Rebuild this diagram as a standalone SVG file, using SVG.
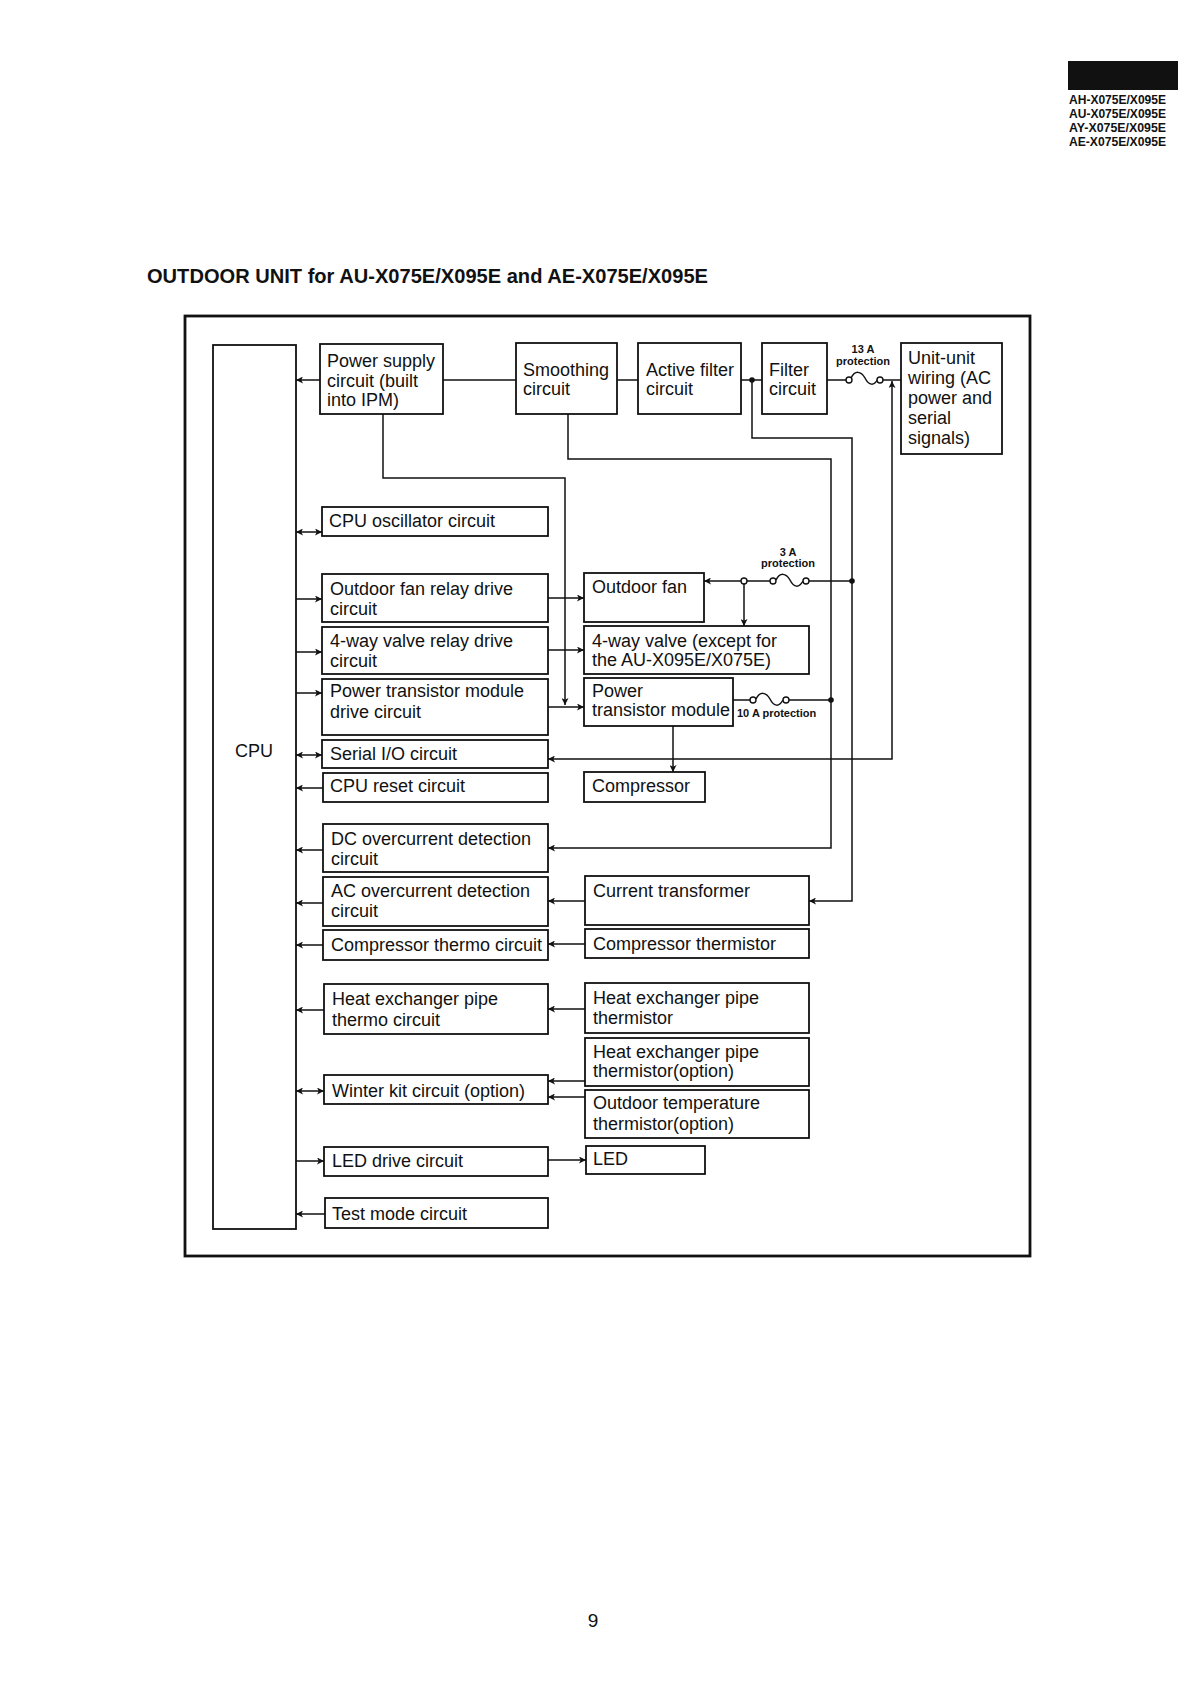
<svg xmlns="http://www.w3.org/2000/svg" width="1191" height="1684" viewBox="0 0 1191 1684">
<defs>
<marker id="ar" viewBox="0 0 10 10" refX="10" refY="5" markerWidth="10" markerHeight="7" markerUnits="userSpaceOnUse" orient="auto-start-reverse"><path d="M0,0 L10,5 L0,10 L2.5,5 z" fill="#111"/></marker>
<style>
.bx{fill:#fff;stroke:#111;stroke-width:1.8}
.t{font-family:"Liberation Sans",Arial,sans-serif;font-size:18px;fill:#111}
.s{font-family:"Liberation Sans",Arial,sans-serif;font-size:11px;font-weight:bold;fill:#111}
.h{font-family:"Liberation Sans",Arial,sans-serif;font-size:13px;font-weight:bold;fill:#111}
.ln{fill:none;stroke:#111;stroke-width:1.5}
.e{marker-end:url(#ar)}
.b{marker-start:url(#ar);marker-end:url(#ar)}
.oc{fill:#fff;stroke:#111;stroke-width:1.4}
.dot{fill:#111}
</style>
</defs>
<rect width="1191" height="1684" fill="#fff"/>

<g id="header">
<rect x="1068" y="61" width="110" height="29" fill="#111"/>
<text class="h" x="1069" y="104" textLength="97" lengthAdjust="spacingAndGlyphs">AH-X075E/X095E</text>
<text class="h" x="1069" y="118" textLength="97" lengthAdjust="spacingAndGlyphs">AU-X075E/X095E</text>
<text class="h" x="1069" y="132" textLength="97" lengthAdjust="spacingAndGlyphs">AY-X075E/X095E</text>
<text class="h" x="1069" y="146" textLength="97" lengthAdjust="spacingAndGlyphs">AE-X075E/X095E</text>
</g>

<text x="147" y="283" font-family="Liberation Sans,Arial,sans-serif" font-size="20" font-weight="bold" fill="#111" textLength="561" lengthAdjust="spacingAndGlyphs">OUTDOOR UNIT for AU-X075E/X095E and AE-X075E/X095E</text>

<rect x="185" y="316" width="845" height="940" fill="none" stroke="#111" stroke-width="2.8"/>

<g id="cpu"><rect class="bx" x="213" y="345" width="83" height="884"/><text class="t" x="254" y="757" text-anchor="middle">CPU</text></g>

<g id="power-supply"><rect class="bx" x="320" y="344" width="123" height="70"/><text class="t" x="327" y="367">Power supply</text><text class="t" x="327" y="387">circuit (built</text><text class="t" x="327" y="406">into IPM)</text></g>
<g id="smoothing"><rect class="bx" x="516" y="343" width="101" height="71"/><text class="t" x="523" y="376">Smoothing</text><text class="t" x="523" y="395">circuit</text></g>
<g id="active-filter"><rect class="bx" x="638" y="343" width="103" height="71"/><text class="t" x="646" y="376">Active filter</text><text class="t" x="646" y="395">circuit</text></g>
<g id="filter"><rect class="bx" x="762" y="343" width="65" height="71"/><text class="t" x="769" y="376">Filter</text><text class="t" x="769" y="395">circuit</text></g>
<g id="unit-unit"><rect class="bx" x="901" y="343" width="101" height="111"/><text class="t" x="908" y="364">Unit-unit</text><text class="t" x="908" y="384">wiring (AC</text><text class="t" x="908" y="404">power and</text><text class="t" x="908" y="424">serial</text><text class="t" x="908" y="444">signals)</text></g>

<g id="cpu-osc"><rect class="bx" x="322" y="507" width="226" height="29"/><text class="t" x="329" y="527">CPU oscillator circuit</text></g>
<g id="fan-relay"><rect class="bx" x="322" y="574" width="226" height="48"/><text class="t" x="330" y="595">Outdoor fan relay drive</text><text class="t" x="330" y="615">circuit</text></g>
<g id="valve-relay"><rect class="bx" x="322" y="627" width="226" height="47"/><text class="t" x="330" y="647">4-way valve relay drive</text><text class="t" x="330" y="667">circuit</text></g>
<g id="ptm-drive"><rect class="bx" x="322" y="679" width="226" height="56"/><text class="t" x="330" y="697">Power transistor module</text><text class="t" x="330" y="718">drive circuit</text></g>
<g id="serial-io"><rect class="bx" x="322" y="740" width="226" height="28"/><text class="t" x="330" y="760">Serial I/O circuit</text></g>
<g id="cpu-reset"><rect class="bx" x="323" y="773" width="225" height="29"/><text class="t" x="330" y="792">CPU reset circuit</text></g>
<g id="dc-oc"><rect class="bx" x="323" y="824" width="225" height="48"/><text class="t" x="331" y="845">DC overcurrent detection</text><text class="t" x="331" y="865">circuit</text></g>
<g id="ac-oc"><rect class="bx" x="323" y="877" width="225" height="49"/><text class="t" x="331" y="897">AC overcurrent detection</text><text class="t" x="331" y="917">circuit</text></g>
<g id="comp-thermo"><rect class="bx" x="323" y="930" width="225" height="30"/><text class="t" x="331" y="951">Compressor thermo circuit</text></g>
<g id="hx-thermo"><rect class="bx" x="324" y="984" width="224" height="50"/><text class="t" x="332" y="1005">Heat exchanger pipe</text><text class="t" x="332" y="1026">thermo circuit</text></g>
<g id="winter-kit"><rect class="bx" x="324" y="1075" width="224" height="29"/><text class="t" x="332" y="1097">Winter kit circuit (option)</text></g>
<g id="led-drive"><rect class="bx" x="324" y="1147" width="224" height="29"/><text class="t" x="332" y="1167">LED drive circuit</text></g>
<g id="test-mode"><rect class="bx" x="325" y="1198" width="223" height="30"/><text class="t" x="332" y="1220">Test mode circuit</text></g>

<g id="outdoor-fan"><rect class="bx" x="584" y="573" width="120" height="49"/><text class="t" x="592" y="593">Outdoor fan</text></g>
<g id="four-way-valve"><rect class="bx" x="584" y="626" width="225" height="48"/><text class="t" x="592" y="647">4-way valve (except for</text><text class="t" x="592" y="666">the AU-X095E/X075E)</text></g>
<g id="ptm"><rect class="bx" x="584" y="678" width="149" height="48"/><text class="t" x="592" y="697">Power</text><text class="t" x="592" y="716">transistor module</text></g>
<g id="compressor"><rect class="bx" x="584" y="772" width="121" height="30"/><text class="t" x="592" y="792">Compressor</text></g>
<g id="current-transformer"><rect class="bx" x="585" y="876" width="224" height="49"/><text class="t" x="593" y="897">Current transformer</text></g>
<g id="comp-thermistor"><rect class="bx" x="585" y="929" width="224" height="29"/><text class="t" x="593" y="950">Compressor thermistor</text></g>
<g id="hx-thermistor"><rect class="bx" x="585" y="983" width="224" height="50"/><text class="t" x="593" y="1004">Heat exchanger pipe</text><text class="t" x="593" y="1024">thermistor</text></g>
<g id="hx-thermistor-opt"><rect class="bx" x="585" y="1038" width="224" height="48"/><text class="t" x="593" y="1058">Heat exchanger pipe</text><text class="t" x="593" y="1077">thermistor(option)</text></g>
<g id="outdoor-temp"><rect class="bx" x="585" y="1090" width="224" height="48"/><text class="t" x="593" y="1109">Outdoor temperature</text><text class="t" x="593" y="1130">thermistor(option)</text></g>
<g id="led"><rect class="bx" x="586" y="1146" width="119" height="28"/><text class="t" x="593" y="1165">LED</text></g>

<g id="connectors">
<path class="ln e" d="M320,380 H296"/>
<path class="ln" d="M443,380 H516"/>
<path class="ln" d="M617,380 H638"/>
<path class="ln" d="M741,380 H762"/>
<circle class="dot" cx="752" cy="380" r="2.8"/>
<path class="ln" d="M827,380 H846"/>
<path class="ln" d="M851,378 C855,370 861,371 865,378 C869,386 874,386 878,379"/>
<circle class="oc" cx="849" cy="380" r="3"/>
<circle class="oc" cx="880" cy="380" r="3"/>
<path class="ln" d="M883,380 H901"/>
<text class="s" x="863" y="353" text-anchor="middle">13 A</text>
<text class="s" x="863" y="365" text-anchor="middle">protection</text>
<path class="ln b" d="M892,381 V759 H548"/>

<path class="ln e" d="M383,414 V478 H565 V705"/>
<path class="ln e" d="M568,414 V459 H831 V848 H548"/>
<path class="ln e" d="M752,380 V438 H852 V901 H809"/>

<circle class="dot" cx="852" cy="581" r="2.8"/>
<path class="ln" d="M852,581 H809"/>
<path class="ln" d="M776,580 C780,572 786,573 790,580 C794,588 799,588 803,581"/>
<circle class="oc" cx="806" cy="581" r="3"/>
<circle class="oc" cx="773" cy="581" r="3"/>
<path class="ln" d="M770,581 H747"/>
<path class="ln e" d="M741,581 H704"/>
<circle class="oc" cx="744" cy="581" r="3"/>
<path class="ln e" d="M744,584 V626"/>
<text class="s" x="788" y="556" text-anchor="middle">3 A</text>
<text class="s" x="788" y="567" text-anchor="middle">protection</text>

<path class="ln" d="M733,700 H750"/>
<path class="ln" d="M756,699 C760,691 766,692 770,699 C774,707 779,707 783,700"/>
<circle class="oc" cx="753" cy="700" r="3"/>
<circle class="oc" cx="786" cy="700" r="3"/>
<path class="ln" d="M789,700 H831"/>
<circle class="dot" cx="831" cy="700" r="2.8"/>
<text class="s" x="737" y="717">10 A protection</text>

<path class="ln e" d="M673,726 V772"/>

<path class="ln b" d="M296,532 H322"/>
<path class="ln e" d="M296,599 H322"/>
<path class="ln e" d="M296,652 H322"/>
<path class="ln e" d="M296,693 H322"/>
<path class="ln b" d="M296,755 H322"/>
<path class="ln e" d="M323,788 H296"/>
<path class="ln e" d="M323,850 H296"/>
<path class="ln e" d="M323,903 H296"/>
<path class="ln e" d="M323,945 H296"/>
<path class="ln e" d="M324,1010 H296"/>
<path class="ln b" d="M296,1091 H324"/>
<path class="ln e" d="M296,1161 H324"/>
<path class="ln e" d="M325,1214 H296"/>

<path class="ln e" d="M548,598 H584"/>
<path class="ln e" d="M548,650 H584"/>
<path class="ln e" d="M548,707 H584"/>
<path class="ln e" d="M585,901 H548"/>
<path class="ln e" d="M585,944 H548"/>
<path class="ln e" d="M585,1009 H548"/>
<path class="ln e" d="M585,1081 H548"/>
<path class="ln e" d="M585,1097 H548"/>
<path class="ln e" d="M548,1160 H586"/>
</g>

<text x="593" y="1627" font-family="Liberation Sans,Arial,sans-serif" font-size="19" fill="#111" text-anchor="middle">9</text>
</svg>
